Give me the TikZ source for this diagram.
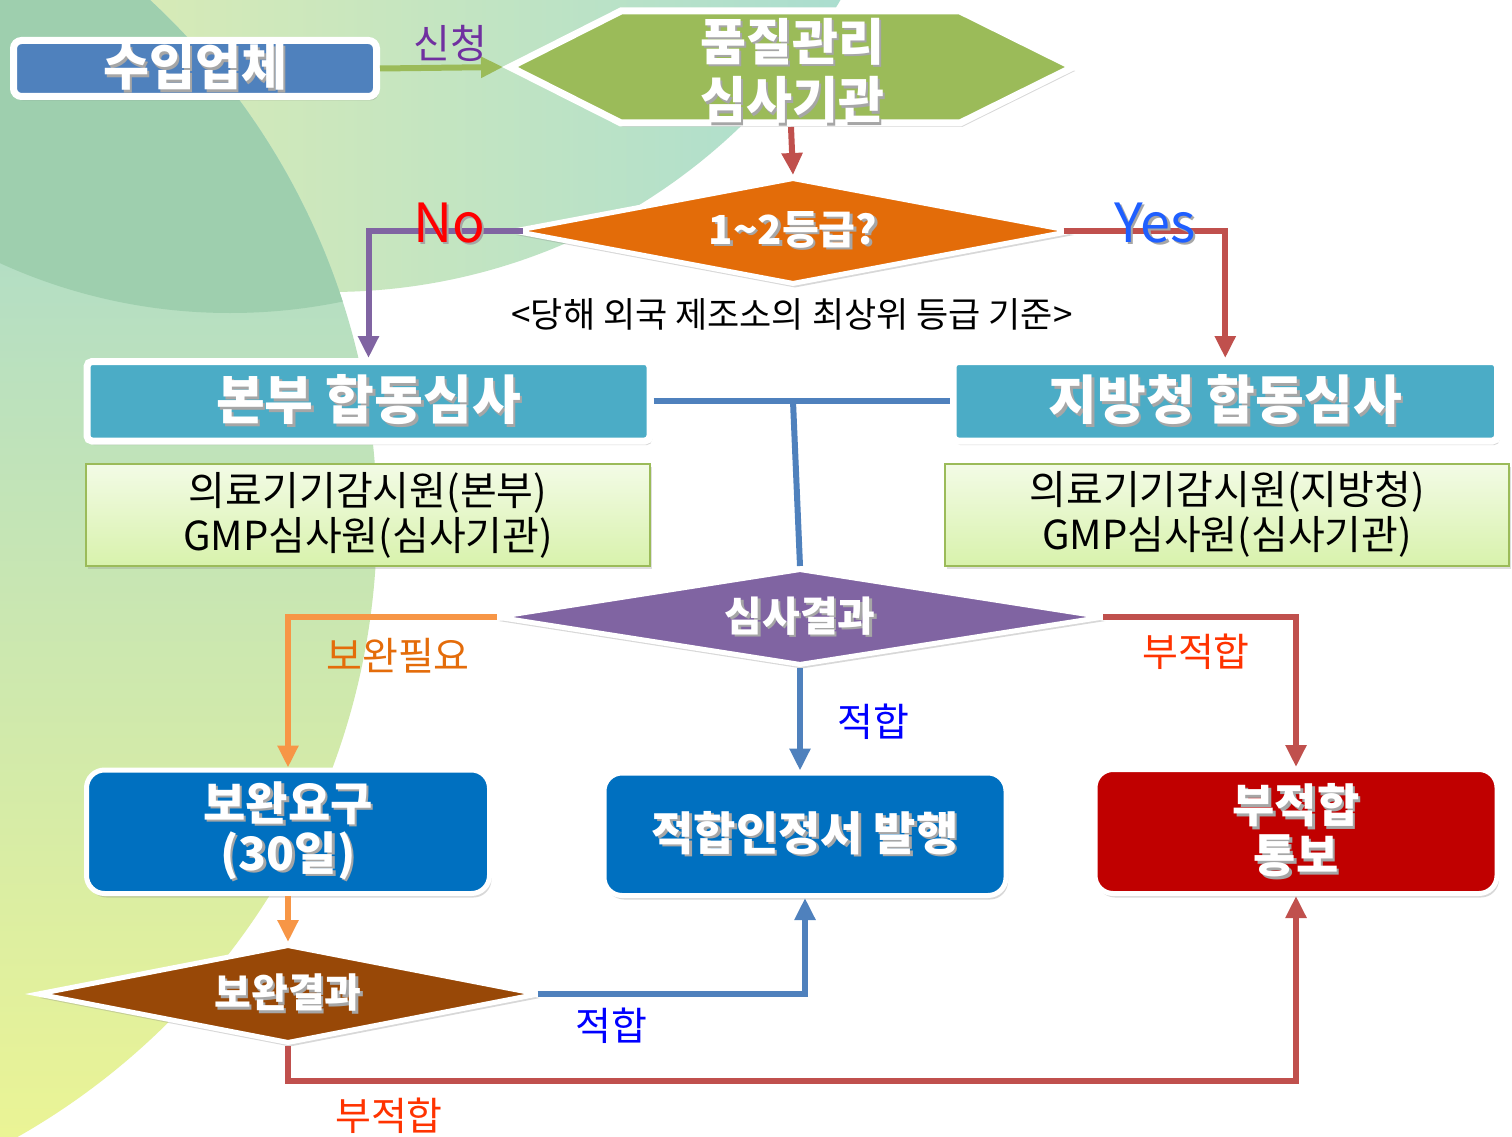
\documentclass[tikz,border=0pt]{standalone}
\usepackage{fontspec}
\setmainfont{Noto Sans CJK KR}
\usetikzlibrary{shapes.geometric,arrows.meta,shadows}
\pgfdeclarelayer{bg}
\pgfsetlayers{bg,main}

\definecolor{boxBlue}{HTML}{4F81BD}
\definecolor{hexGreen}{HTML}{9BBB59}
\definecolor{decOrange}{HTML}{E36C09}
\definecolor{teamTeal}{HTML}{4BACC6}
\definecolor{decPurple}{HTML}{8064A2}
\definecolor{resBlue}{HTML}{0070C0}
\definecolor{resRed}{HTML}{C00000}
\definecolor{decBrown}{HTML}{984807}
\definecolor{lnBlue}{HTML}{4F81BD}
\definecolor{lnRed}{HTML}{C0504D}
\definecolor{lnPurple}{HTML}{8064A2}
\definecolor{lnOrange}{HTML}{F79646}
\definecolor{lnGreen}{HTML}{9BBB59}
\definecolor{lbPurple}{HTML}{7030A0}
\definecolor{lbOrange}{HTML}{E46C0A}
\definecolor{lbRed}{HTML}{FF3300}
\definecolor{lbBlue}{HTML}{0000FF}
\definecolor{lbYes}{HTML}{1F5FFF}
\definecolor{memTop}{HTML}{F3FBE6}
\definecolor{memBot}{HTML}{D8F2AC}
\definecolor{memLine}{HTML}{9BBB59}
\definecolor{bgDark}{HTML}{9ECFAE}
\definecolor{bgBL}{HTML}{F0F2A8}
\definecolor{bgBR}{HTML}{A6DCD2}
\definecolor{bgCT}{HTML}{98D3DC}
\definecolor{bgCM}{HTML}{A5D8D0}
\definecolor{bgCB}{HTML}{F0F690}

\newcommand\tsh[1]{\makebox[0pt][l]{\hspace{2.5pt}\raisebox{-2.5pt}{\textcolor{black!35}{#1}}}#1}

\tikzset{
  shdw/.style={drop shadow={shadow xshift=2pt, shadow yshift=-4pt, opacity=0.3}},
  wbox/.style={draw=white, line width=7pt, inner sep=0pt, shdw, text=white,
    font=\bfseries\fontsize{50}{58}\selectfont, align=center},
  resbox/.style={draw=white, line width=5pt, inner sep=0pt, shdw, text=white,
    rounded corners=18pt, font=\bfseries\fontsize{46}{50}\selectfont, align=center},
  dec/.style={diamond, draw=white, line width=5pt, inner sep=0pt, shdw, text=white,
    font=\bfseries\fontsize{40}{44}\selectfont},
  memb/.style={draw=memLine, line width=2pt, top color=memTop, bottom color=memBot,
    inner sep=0pt, font=\fontsize{40}{45}\selectfont, align=center,
    drop shadow={shadow xshift=2pt, shadow yshift=-3pt, opacity=0.25}},
  conn/.style={line width=6pt, -{Triangle[length=22pt,width=20pt]}},
  plainln/.style={line width=6pt},
  lbl/.style={font=\fontsize{39}{42}\selectfont, inner sep=0pt},
}

\begin{document}
\begin{tikzpicture}[x=1pt,y=-1pt]
\useasboundingbox (0,0) rectangle (1512,1137);

\begin{pgfonlayer}{bg}
  \fill[white] (0,0) rectangle (1512,1137);
  \begin{scope}
    \clip (0,0) rectangle (1512,1137);
    \shade[left color=bgBL, right color=bgBR] (330,-300) circle (592pt);
    \shade[top color=bgCT, middle color=bgCM, bottom color=bgCB] (-332,520) circle (709pt);
    \begin{scope}
      \clip (-332,520) circle (709pt);
      \fill[bgDark] (230,-241) circle (554pt);
    \end{scope}
  \end{scope}
\end{pgfonlayer}

% importer
\node[wbox, fill=boxBlue, rounded corners=8pt, minimum width=363pt, minimum height=56pt] (imp) at (195,68.5) {\tsh{수입업체}};

% hexagon
\path[draw=white, line width=7pt, fill=hexGreen, line join=miter, shdw]
  (510,67) -- (621,11) -- (960,11) -- (1073,67) -- (960,123) -- (621,123) -- cycle;
\coordinate (qaW) at (503,67);
\coordinate (qaS) at (791,127);
\node[text=white, font=\bfseries\fontsize{50}{58}\selectfont, align=center, inner sep=0pt] (qa) at (792,72) {\tsh{품질관리}\\\tsh{심사기관}};

% decision 1
\node[dec, fill=decOrange, aspect=5.2, minimum width=560pt, minimum height=107pt] (g12) at (793,231) {\tsh{1\textasciitilde 2등급?}};

% team boxes
\node[wbox, fill=teamTeal, rounded corners=5pt, minimum width=563pt, minimum height=79.5pt, font=\bfseries\fontsize{53}{56}\selectfont] (hq) at (368.5,401.25) {\tsh{본부 합동심사}};
\node[wbox, fill=teamTeal, rounded corners=5pt, minimum width=544.5pt, minimum height=79.5pt, font=\bfseries\fontsize{53}{56}\selectfont] (reg) at (1225.25,401.25) {\tsh{지방청 합동심사}};

% member boxes
\node[memb, minimum width=564pt, minimum height=102pt] (hqm) at (368,515) {의료기기감시원(본부)\\GMP심사원(심사기관)};
\node[memb, minimum width=564pt, minimum height=102pt] (regm) at (1227,514.5) {의료기기감시원(지방청)\\GMP심사원(심사기관)};

% decision 2
\node[dec, fill=decPurple, aspect=6.3, minimum width=609pt, minimum height=97pt, font=\bfseries\fontsize{41}{44}\selectfont] (res) at (800,617) {\tsh{심사결과}};

% result boxes
\node[resbox, fill=resBlue, minimum width=403pt, minimum height=123.5pt] (sup) at (288,831.75) {\tsh{보완요구}\\\tsh{(30일)}};
\node[resbox, fill=resBlue, minimum width=402pt, minimum height=122.5pt] (okc) at (805,834.25) {\tsh{적합인정서 발행}};
\node[resbox, fill=resRed, minimum width=402pt, minimum height=124pt] (ng) at (1296,831.5) {\tsh{부적합}\\\tsh{통보}};

% decision 3
\node[dec, fill=decBrown, aspect=5.07, minimum width=502pt, minimum height=99pt] (sres) at (288,994) {\tsh{보완결과}};

% connectors
\draw[conn, lnGreen] (imp.east) -- (qaW);
\draw[conn, lnRed] (qaS) -- (g12.north);
\draw[conn, lnPurple] ([xshift=12pt]g12.west) -| (hq.north);
\draw[conn, lnRed] ([xshift=-12pt]g12.east) -| (reg.north);
\draw[plainln, lnBlue] (hq.east) -- (reg.west);
\coordinate (jn) at (793,401.25);
\draw[plainln, lnBlue] (jn) -- (res.north);
\draw[conn, lnOrange] ([xshift=4pt]res.west) -| (sup.north);
\draw[conn, lnRed] ([xshift=-4pt]res.east) -| (ng.north);
\draw[conn, lnBlue] (res.south) -- (res.south |- okc.north);
\draw[conn, lnOrange] (sup.south) -- (sres.north);
\draw[conn, lnBlue] ([xshift=-4pt]sres.east) -| (okc.south);
\draw[conn, lnRed] (sres.south) -- ++(0,35) -| (ng.south);

% labels
\node[lbl, text=lbPurple, font=\fontsize{40}{42}\selectfont] (tapply) at (450,43) {신청};
\node[inner sep=0pt, text=red, font=\fontsize{54}{54}\selectfont] (tno) at (449,224) {\tsh{No}};
\node[inner sep=0pt, text=lbYes, font=\fontsize{54}{54}\selectfont] (tyes) at (1155,224) {\tsh{Yes}};
\node[inner sep=0pt, font=\fontsize{35}{38}\selectfont] (tcrit) at (792,314) {<당해 외국 제조소의 최상위 등급 기준>};
\node[lbl, text=lbOrange] (tsupp) at (398,656) {보완필요};
\node[lbl, text=lbRed] (tng1) at (1196,652) {부적합};
\node[lbl, text=lbBlue] (tok1) at (873,722) {적합};
\node[lbl, text=lbBlue] (tok2) at (611,1026) {적합};
\node[lbl, text=lbRed] (tng2) at (389,1116) {부적합};
\end{tikzpicture}
\end{document}
